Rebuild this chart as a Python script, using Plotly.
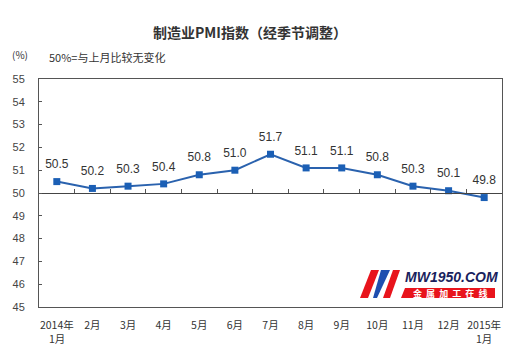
import plotly.graph_objects as go

months = ["2014年", "2月", "3月", "4月", "5月", "6月", "7月", "8月", "9月", "10月", "11月", "12月", "2015年"]
month_sub = {0: "1月", 12: "1月"}
pmi = [50.5, 50.2, 50.3, 50.4, 50.8, 51.0, 51.7, 51.1, 51.1, 50.8, 50.3, 50.1, 49.8]
labels = ["50.5", "50.2", "50.3", "50.4", "50.8", "51.0", "51.7", "51.1", "51.1", "50.8", "50.3", "50.1", "49.8"]
y_ticks = [45, 46, 47, 48, 49, 50, 51, 52, 53, 54, 55]

cjk = "Noto Sans CJK SC"
latin = "Liberation Sans"

# page body has an 8px margin: figure is drawn at (8, 8)
OFF = 8
W, H = 530 - OFF, 356 - OFF
PL, PR, PT, PB = 39, 502, 79, 307  # plot area in page pixels

fig = go.Figure()
fig.add_trace(go.Scatter(
    x=list(range(len(months))), y=pmi, mode="lines+markers",
    line=dict(color="#2a62ae", width=2),
    marker=dict(symbol="square", size=7, color="#1b5fb5"),
    cliponaxis=False, showlegend=False, hoverinfo="skip",
))
# value labels (invisible larger markers push the text a bit higher)
fig.add_trace(go.Scatter(
    x=list(range(len(months))), y=pmi, mode="markers+text",
    text=labels, textposition="top center",
    textfont=dict(family=latin, size=12, color="#333333"),
    marker=dict(size=15, opacity=0),
    cliponaxis=False, showlegend=False, hoverinfo="skip",
))
# invisible trace on second x axis to draw boundary ticks along the 50 line
fig.add_trace(go.Scatter(x=list(range(len(months))), y=pmi, xaxis="x2", mode="none",
                         showlegend=False, hoverinfo="skip"))

fig.update_layout(
    width=W, height=H,
    margin=dict(l=PL - OFF, r=530 - PR, t=PT - OFF, b=356 - PB),
    paper_bgcolor="white", plot_bgcolor="white",
    xaxis=dict(
        tickmode="array", tickvals=list(range(len(months))), ticktext=months,
        range=[-0.5, len(months) - 0.5], showgrid=False, zeroline=False,
        showline=True, linecolor="#555555", linewidth=1, mirror=True,
        ticks="", tickfont=dict(family=cjk, size=10.5, color="#333333"),
        automargin=False, ticklabelstandoff=8,
    ),
    xaxis2=dict(
        overlaying="x", anchor="free", position=0.5, side="top",
        range=[-0.5, len(months) - 0.5],
        tickmode="array", tickvals=[i + 0.5 for i in range(len(months) - 1)],
        ticks="outside", ticklen=4, tickcolor="#555555",
        showticklabels=False, showgrid=False, zeroline=False,
        showline=True, linecolor="#444444", linewidth=1, automargin=False,
    ),
    yaxis=dict(
        range=[45, 55], tickvals=y_ticks, ticks="inside", ticklen=3,
        tickcolor="#555555", showgrid=False, zeroline=False,
        showline=True, linecolor="#555555", linewidth=1, mirror=True,
        tickfont=dict(family=latin, size=11, color="#444444"),
        automargin=False, ticklabelstandoff=11,
    ),
)

def px(x):
    return (x - PL) / (PR - PL)

def py(y):
    return (PB - y) / (PB - PT)

for idx, sub in month_sub.items():
    fig.add_annotation(text=sub, xref="x", yref="paper", x=idx, y=py(338),
                       xanchor="center", yanchor="middle", showarrow=False,
                       font=dict(family=cjk, size=10.5, color="#333333"))

fig.add_annotation(text="<b>制造业PMI指数（经季节调整）</b>", xref="paper", yref="paper",
                   x=px(250), y=py(32), showarrow=False, xanchor="center",
                   font=dict(family=cjk, size=14, color="#333333"), yanchor="middle")
fig.add_annotation(text="(%)", xref="paper", yref="paper", x=px(10), xanchor="left",
                   y=py(55), yanchor="middle", showarrow=False,
                   font=dict(family=cjk, size=10, color="#333333"))
fig.add_annotation(text="50%=与上月比较无变化", xref="paper", yref="paper", x=px(47),
                   xanchor="left", y=py(57), yanchor="middle", showarrow=False,
                   font=dict(family=cjk, size=11, color="#333333"))

# watermark logo
def poly(pts, color):
    path = "M " + " L ".join(f"{px(a)} {py(b)}" for a, b in pts) + " Z"
    fig.add_shape(type="path", xref="paper", yref="paper", path=path,
                  fillcolor=color, line=dict(width=0))

poly([(360, 298), (371, 270), (379, 270), (368, 298)], "#e8141c")
poly([(373, 298), (381, 270), (390, 270), (377, 298)], "#1f4fb0")
poly([(383, 298), (393, 270), (400, 270), (390, 298)], "#e8141c")
poly([(401, 298), (405, 288), (495, 288), (495, 298)], "#e8141c")
fig.add_annotation(text="<i><b>MW1950.COM</b></i>", xref="paper", yref="paper",
                   x=px(451), y=py(277), xanchor="center", yanchor="middle", showarrow=False,
                   font=dict(family=latin, size=14, color="#1a1f5e"))
fig.add_annotation(text="<b>金  属  加  工  在  线</b>", xref="paper", yref="paper",
                   x=px(450), y=py(293), xanchor="center", yanchor="middle", showarrow=False,
                   font=dict(family=cjk, size=9, color="white"))

fig.write_html("out.html")
